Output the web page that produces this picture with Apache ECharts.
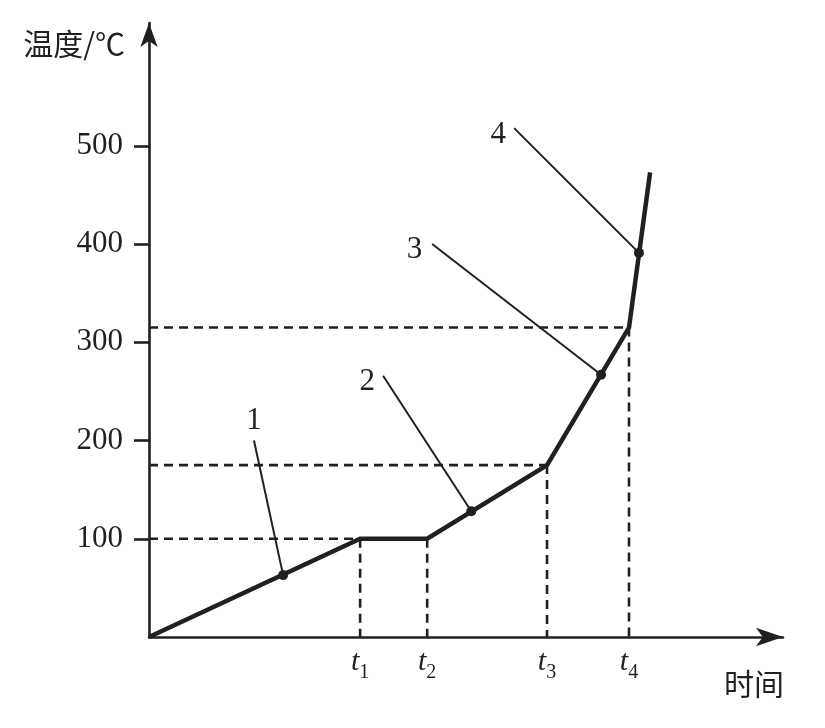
<!DOCTYPE html>
<html>
<head>
<meta charset="utf-8">
<script src="https://cdn.jsdelivr.net/npm/echarts@6/dist/echarts.min.js"></script>
<style>html,body{margin:0;padding:0;background:#fff;}#c{width:825px;height:728px;}</style>
</head>
<body>
<div id="c"></div>
<script>
// ---- data ----
const yTicks = [100, 200, 300, 400, 500];
const tSubs = ['1', '2', '3', '4'];
const tTimes = [34.0, 44.8, 64.1, 77.3];
const tTemps = [100, 100, 175, 315];
const curveTimes = [0, 34.0, 44.8, 64.1, 77.3, 80.7];
const curveTemps = [0, 100, 100, 175, 315, 473];
const hGuideIdx = [0, 2, 3];           // horizontal dashed guides at t1, t3, t4
const markerNames = ['1', '2', '3', '4'];
const markerTimes = [21.6, 51.9, 72.8, 78.9];
const markerTemps = [63, 128, 267, 391];
const leaderTimes = [16.9, 37.7, 45.6, 58.8];
const leaderTemps = [200, 266, 400, 518];

// ---- styles ----
const INK = '#231f20';
const SERIF = '"Liberation Serif","DejaVu Serif",serif';
const CJK = '"Noto Sans CJK SC",sans-serif';
const labelPlace = [
  {position: 'top', distance: 4, offset: [0, 0]},
  {position: 'left', distance: 8, offset: [0, 6]},
  {position: 'left', distance: 10, offset: [0, 6]},
  {position: 'left', distance: 8, offset: [0, 7]}
];
const dash = {color: INK, width: 2.6, type: [9, 6]};

const series = [];
// dashed guides
tTimes.forEach((t, i) => {
  series.push({type: 'line', data: [[t, tTemps[i]], [t, 0]], symbol: 'none', lineStyle: dash, silent: true, z: 1});
});
hGuideIdx.forEach(i => {
  series.push({type: 'line', data: [[0, tTemps[i]], [tTimes[i], tTemps[i]]], symbol: 'none', lineStyle: dash, silent: true, z: 1});
});
// main curve
series.push({
  type: 'line',
  data: curveTimes.map((t, i) => [t, curveTemps[i]]),
  symbol: 'none',
  lineStyle: {color: INK, width: 4.5, join: 'miter'},
  z: 3
});
// leader lines
markerTimes.forEach((t, i) => {
  series.push({type: 'line', data: [[leaderTimes[i], leaderTemps[i]], [t, markerTemps[i]]], symbol: 'none', lineStyle: {color: INK, width: 2}, z: 2});
});
// markers
series.push({
  type: 'scatter',
  data: markerTimes.map((t, i) => [t, markerTemps[i]]),
  symbol: 'circle', symbolSize: 10,
  itemStyle: {color: INK, opacity: 1},
  z: 4
});
// marker labels
series.push({
  type: 'scatter',
  data: leaderTimes.map((t, i) => ({
    value: [t, leaderTemps[i]],
    label: Object.assign({show: true, formatter: markerNames[i], color: INK, fontFamily: SERIF, fontSize: 31}, labelPlace[i])
  })),
  symbolSize: 0,
  itemStyle: {color: INK, opacity: 1},
  label: {color: INK, fontFamily: SERIF, fontSize: 31},
  z: 5
});

const option = {
  animation: false,
  backgroundColor: '#fff',
  grid: {left: 149, right: 42, top: 23, bottom: 91},
  xAxis: {
    type: 'value', min: 0, max: 102.1,
    name: '时间', nameLocation: 'end', nameGap: -59,
    nameTextStyle: {color: INK, fontFamily: CJK, fontSize: 30, align: 'left', verticalAlign: 'top', padding: [32, 0, 0, 0]},
    axisLine: {show: true, symbol: ['none', 'arrow'], symbolSize: [14, 27], lineStyle: {color: INK, width: 2.6}},
    axisTick: {show: false},
    splitLine: {show: false},
    axisLabel: {
      customValues: tTimes,
      margin: 10,
      formatter: v => {
        const i = tTimes.findIndex(t => Math.abs(t - v) < 1e-6);
        return '{t|t}{s|' + (i >= 0 ? tSubs[i] : '') + '}';
      },
      rich: {
        t: {fontFamily: SERIF, fontStyle: 'italic', fontSize: 30, color: INK, lineHeight: 30, verticalAlign: 'bottom'},
        s: {fontFamily: SERIF, fontSize: 20, color: INK, lineHeight: 20, verticalAlign: 'bottom', padding: [0, 0, -6, 0]}
      }
    }
  },
  yAxis: {
    type: 'value', min: 0, max: 625,
    name: '温度/℃', nameLocation: 'end', nameGap: -6,
    nameTextStyle: {color: INK, fontFamily: CJK, fontSize: 30, align: 'right', verticalAlign: 'top', padding: [0, 24, 0, 0]},
    axisLine: {show: true, symbol: ['none', 'arrow'], symbolSize: [13, 24], lineStyle: {color: INK, width: 2.6}},
    axisTick: {show: true, customValues: yTicks, length: 15, inside: false, lineStyle: {color: INK, width: 2.6}},
    splitLine: {show: false},
    axisLabel: {customValues: yTicks, margin: 26, color: INK, fontFamily: SERIF, fontSize: 31}
  },
  series: series
};
echarts.init(document.getElementById('c')).setOption(option);
</script>
</body>
</html>
